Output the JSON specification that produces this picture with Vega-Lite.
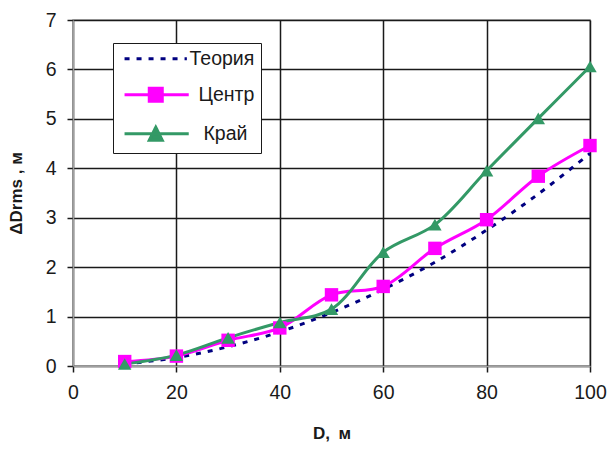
{
  "$schema": "https://vega.github.io/schema/vega-lite/v6.json",
  "width": 517,
  "height": 346,
  "autosize": {"type": "none"},
  "padding": {"left": 73, "top": 20, "right": 19, "bottom": 84},
  "background": "white",
  "config": {
    "font": "Liberation Sans",
    "view": {"stroke": "#a0a0a0", "strokeWidth": 1.5},
    "axis": {
      "labelFont": "Liberation Sans",
      "labelFontSize": 19.5,
      "labelColor": "#1a1a1a",
      "titleFont": "Liberation Sans",
      "titleFontSize": 17,
      "titleFontWeight": "bold",
      "titleColor": "#1a1a1a",
      "domainColor": "#a0a0a0",
      "domainWidth": 1.5,
      "tickColor": "#1a1a1a",
      "tickSize": 6,
      "tickWidth": 1.5,
      "gridColor": "#1a1a1a",
      "gridWidth": 1.5,
      "gridOpacity": 1,
      "labelPadding": 11
    }
  },
  "data": {
    "values": [
      {"D": 10, "series": "Теория", "v": 0.04},
      {"D": 20, "series": "Теория", "v": 0.17},
      {"D": 30, "series": "Теория", "v": 0.39},
      {"D": 40, "series": "Теория", "v": 0.69},
      {"D": 50, "series": "Теория", "v": 1.08},
      {"D": 60, "series": "Теория", "v": 1.55},
      {"D": 70, "series": "Теория", "v": 2.1},
      {"D": 80, "series": "Теория", "v": 2.75},
      {"D": 90, "series": "Теория", "v": 3.48},
      {"D": 100, "series": "Теория", "v": 4.3},
      {"D": 10, "series": "Центр", "v": 0.09},
      {"D": 20, "series": "Центр", "v": 0.2},
      {"D": 30, "series": "Центр", "v": 0.52},
      {"D": 40, "series": "Центр", "v": 0.77},
      {"D": 50, "series": "Центр", "v": 1.44},
      {"D": 60, "series": "Центр", "v": 1.61},
      {"D": 70, "series": "Центр", "v": 2.38},
      {"D": 80, "series": "Центр", "v": 2.96},
      {"D": 90, "series": "Центр", "v": 3.84},
      {"D": 100, "series": "Центр", "v": 4.46},
      {"D": 10, "series": "Край", "v": 0.04},
      {"D": 20, "series": "Край", "v": 0.22},
      {"D": 30, "series": "Край", "v": 0.57},
      {"D": 40, "series": "Край", "v": 0.88},
      {"D": 50, "series": "Край", "v": 1.15},
      {"D": 60, "series": "Край", "v": 2.3},
      {"D": 70, "series": "Край", "v": 2.86},
      {"D": 80, "series": "Край", "v": 3.95},
      {"D": 90, "series": "Край", "v": 5.01},
      {"D": 100, "series": "Край", "v": 6.06}
    ]
  },
  "encoding": {
    "x": {
      "field": "D", "type": "quantitative",
      "scale": {"domain": [0, 100], "nice": false},
      "axis": {"values": [0, 20, 40, 60, 80, 100], "title": "D,\u2002м", "titlePadding": 24, "labelFlush": false}
    },
    "y": {
      "field": "v", "type": "quantitative",
      "scale": {"domain": [0, 7], "nice": false},
      "axis": {"values": [0, 1, 2, 3, 4, 5, 6, 7], "title": "ΔDrms , м", "titlePadding": 20, "labelFlush": false}
    },
    "color": {
      "field": "series", "type": "nominal",
      "scale": {"domain": ["Теория", "Центр", "Край"], "range": ["#000080", "#ff00ff", "#339966"]}
    }
  },
  "layer": [
    {
      "transform": [{"filter": "datum.series == 'Теория'"}],
      "mark": {"type": "line", "strokeWidth": 3, "strokeDash": [5, 7], "interpolate": "catmull-rom"},
      "encoding": {
        "color": {
          "field": "series", "type": "nominal",
          "legend": {
            "title": null,
            "orient": "none",
            "legendX": 40,
            "legendY": 23,
            "fillColor": "white",
            "strokeColor": "#1a1a1a",
            "padding": 6,
            "labelFont": "Liberation Sans",
            "labelFontSize": 19.5,
            "labelColor": "#1a1a1a",
            "symbolSize": 196,
            "labelOffset": 51,
            "rowPadding": 13,
            "symbolStrokeWidth": 3,
            "encode": {
              "labels": {
                "update": {
                  "dx": {"signal": "datum.value == 'Центр' ? 9 : datum.value == 'Край' ? 14 : 0"}
                }
              },
              "symbols": {
                "update": {
                  "shape": {"signal": "datum.value == 'Теория' ? 'M-0.6,0L8.3,0' : datum.value == 'Центр' ? 'M-0.6,0L8.57,0M2.93,-0.93L4.79,-0.93L4.79,0.93L2.93,0.93Z' : 'M-0.6,0L8.57,0M2.93,0.93L4.79,0.93L3.86,-0.93Z'"},
                  "fill": {"signal": "datum.value == 'Теория' ? 'transparent' : datum.value == 'Центр' ? '#ff00ff' : '#339966'"},
                  "stroke": {"signal": "datum.value == 'Теория' ? '#000080' : datum.value == 'Центр' ? '#ff00ff' : '#339966'"},
                  "strokeDash": {"signal": "datum.value == 'Теория' ? [5, 7] : [1, 0]"},
                  "strokeWidth": {"value": 3}
                }
              }
            }
          }
        }
      }
    },
    {
      "transform": [{"filter": "datum.series != 'Теория'"}],
      "mark": {"type": "line", "strokeWidth": 3, "interpolate": "catmull-rom"},
      "encoding": {"color": {"field": "series", "type": "nominal", "legend": null}}
    },
    {
      "transform": [{"filter": "datum.series != 'Теория'"}],
      "mark": {"type": "point", "filled": true, "opacity": 1, "size": 180},
      "encoding": {
        "color": {"field": "series", "type": "nominal", "legend": null},
        "shape": {
          "field": "series", "type": "nominal",
          "scale": {"domain": ["Центр", "Край"], "range": ["square", "triangle-up"]},
          "legend": null
        }
      }
    }
  ]
}
